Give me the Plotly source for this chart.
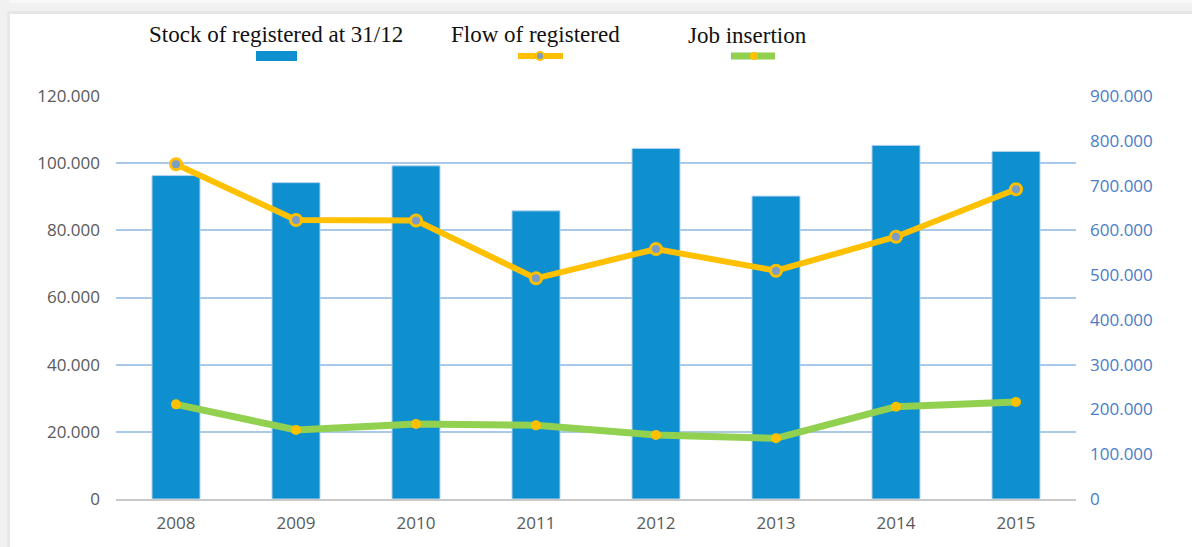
import plotly.graph_objects as go

years = ["2008", "2009", "2010", "2011", "2012", "2013", "2014", "2015"]
stock_registered = [96300, 94200, 99200, 85800, 104400, 90200, 105300, 103500]
flow_registered = [747500, 623000, 622000, 492800, 558300, 509900, 585800, 691600]
job_insertion = [211400, 154100, 167500, 164500, 142900, 135500, 206200, 216600]

legend_names = ["Stock of registered at 31/12", "Flow of registered", "Job insertion"]
left_ticks = [0, 20000, 40000, 60000, 80000, 100000, 120000]
right_ticks = [0, 100000, 200000, 300000, 400000, 500000, 600000, 700000, 800000, 900000]

BLUE = "#0e8fcf"
ORANGE = "#ffc000"
GREEN = "#92d050"
MARK_BLUE = "#7a9cc6"

W, H = 1192, 547
ML, MR, MT, MB = 116, 116, 96, 48
PW = W - ML - MR
PH = H - MT - MB


def px(x):
    return (x - ML) / PW


def py(y):
    return (H - MB - y) / PH


fig = go.Figure()

fig.add_trace(go.Bar(
    x=years, y=stock_registered, name=legend_names[0],
    marker=dict(color=BLUE, line=dict(color="#b5d3ee", width=1)),
    width=0.4, yaxis="y",
))
fig.add_trace(go.Scatter(
    x=years, y=flow_registered, name=legend_names[1], mode="lines+markers",
    line=dict(color=ORANGE, width=6),
    marker=dict(size=11, color=MARK_BLUE, line=dict(color=ORANGE, width=3)),
    yaxis="y2",
))
fig.add_trace(go.Scatter(
    x=years, y=job_insertion, name=legend_names[2], mode="lines+markers",
    line=dict(color=GREEN, width=7),
    marker=dict(size=10, color=ORANGE, line=dict(color=ORANGE, width=0)),
    yaxis="y2",
))

shapes = []
# outer grey frame (page background around the white panel)
shapes.append(dict(type="rect", xref="paper", yref="paper", x0=px(0), x1=px(W), y0=py(0), y1=py(14),
                   fillcolor="#f1f1f1", line=dict(width=0), layer="below"))
shapes.append(dict(type="rect", xref="paper", yref="paper", x0=px(0), x1=px(W), y0=py(0), y1=py(3),
                   fillcolor="#f8f8f8", line=dict(width=0), layer="below"))
shapes.append(dict(type="rect", xref="paper", yref="paper", x0=px(10), x1=px(W), y0=py(11), y1=py(14),
                   fillcolor="#e6e6e6", line=dict(width=0), layer="below"))
shapes.append(dict(type="rect", xref="paper", yref="paper", x0=px(0), x1=px(10), y0=py(0), y1=py(H),
                   fillcolor="#f1f1f1", line=dict(width=0), layer="below"))
shapes.append(dict(type="rect", xref="paper", yref="paper", x0=px(7), x1=px(10), y0=py(11), y1=py(H),
                   fillcolor="#e8e8e8", line=dict(width=0), layer="below"))

# legend swatches
shapes.append(dict(type="rect", xref="paper", yref="paper", x0=px(256), x1=px(297), y0=py(61), y1=py(51),
                   fillcolor=BLUE, line=dict(width=0)))
shapes.append(dict(type="line", xref="paper", yref="paper", x0=px(518), x1=px(563), y0=py(56), y1=py(56),
                   line=dict(color=ORANGE, width=6)))
shapes.append(dict(type="circle", xref="paper", yref="paper", x0=px(536), x1=px(544), y0=py(60), y1=py(52),
                   fillcolor=MARK_BLUE, line=dict(color=ORANGE, width=2)))
shapes.append(dict(type="line", xref="paper", yref="paper", x0=px(731), x1=px(775), y0=py(56), y1=py(56),
                   line=dict(color=GREEN, width=7)))
shapes.append(dict(type="circle", xref="paper", yref="paper", x0=px(750), x1=px(758), y0=py(60), y1=py(52),
                   fillcolor=ORANGE, line=dict(color=ORANGE, width=0)))

legend_font = dict(family="Liberation Serif", size=23, color="#111111")
annotations = [
    dict(text=legend_names[0], xref="paper", yref="paper", x=px(276), y=py(34),
         xanchor="center", yanchor="middle", showarrow=False, font=legend_font),
    dict(text=legend_names[1], xref="paper", yref="paper", x=px(535), y=py(34),
         xanchor="center", yanchor="middle", showarrow=False, font=legend_font),
    dict(text=legend_names[2], xref="paper", yref="paper", x=px(747), y=py(36),
         xanchor="center", yanchor="middle", showarrow=False, font=legend_font),
]

tick_font = dict(family="Open Sans", size=17, color="#595959")

fig.update_layout(
    width=W, height=H,
    margin=dict(l=ML, r=MR, t=MT, b=MB, pad=0),
    paper_bgcolor="white", plot_bgcolor="white",
    showlegend=False,
    separators=",.",
    shapes=shapes,
    annotations=annotations,
    bargap=0.6,
    xaxis=dict(
        type="category", showgrid=False, showline=True, linecolor="#c9c9c9", linewidth=2,
        ticks="", tickfont=tick_font, ticklabelstandoff=8,
    ),
    yaxis=dict(
        range=[0, 120000], tickvals=left_ticks, tickformat=",d",
        showgrid=True, gridcolor="#a9c8ea", gridwidth=1.5, zeroline=False,
        showline=False, ticks="", tickfont=tick_font, ticklabelstandoff=15,
    ),
    yaxis2=dict(
        range=[0, 900000], tickvals=right_ticks, tickformat=",d",
        overlaying="y", side="right", showgrid=False, zeroline=False,
        showline=False, ticks="",
        tickfont=dict(family="Open Sans", size=17, color="#4a7cc9"),
        ticklabelstandoff=13,
    ),
)

fig.write_html(
    "out.html",
    config={"displayModeBar": False},
    post_script="document.body.style.margin='0px';document.body.style.overflow='hidden';",
)
